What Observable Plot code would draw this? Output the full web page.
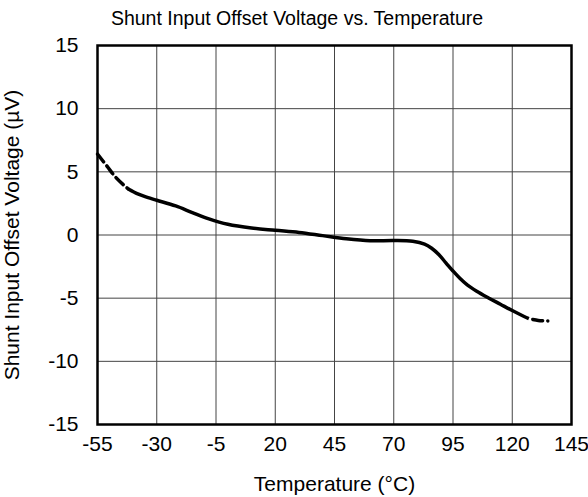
<!DOCTYPE html>
<html>
<head>
<meta charset="utf-8">
<script src="https://cdn.jsdelivr.net/npm/d3@7"></script>
<script src="https://cdn.jsdelivr.net/npm/@observablehq/plot@0.6"></script>
<style>
  html, body { margin: 0; padding: 0; background: #fff; }
  #wrap { position: relative; width: 588px; height: 497px; font-family: "Liberation Sans", Arial, sans-serif; }
  #title { position: absolute; left: 0; width: 594px; top: 7px; text-align: center; font-size: 19.5px; color: #000; }
</style>
</head>
<body>
<div id="wrap">
  <div id="title">Shunt Input Offset Voltage vs. Temperature</div>
  <div id="chart"></div>
</div>
<script>
// Data
const xTicks = [-55, -30, -5, 20, 45, 70, 95, 120, 145];
const yTicks = [-15, -10, -5, 0, 5, 10, 15];

const dashedLowT = [-55, -51, -47, -42];
const dashedLowV = [6.41, 5.45, 4.5, 3.64];

const solidT = [-42, -38, -34, -30, -22, -15, -8, 0, 10, 20, 30, 40, 50, 60, 70, 78, 83, 86, 89, 92, 95, 98, 101, 105, 110, 115, 120, 125, 127];
const solidV = [3.64, 3.25, 2.98, 2.75, 2.3, 1.78, 1.28, 0.85, 0.55, 0.37, 0.2, -0.05, -0.3, -0.46, -0.44, -0.5, -0.72, -1.05, -1.55, -2.2, -2.85, -3.45, -3.95, -4.45, -4.98, -5.48, -5.98, -6.45, -6.62];

const dashedHighT = [127, 131, 135];
const dashedHighV = [-6.62, -6.76, -6.8];

const toRows = (T, V) => T.map((t, i) => ({t, v: V[i]}));

const chart = Plot.plot({
  width: 588,
  height: 497,
  marginTop: 45,
  marginLeft: 97,
  marginRight: 17,
  marginBottom: 73,
  style: {fontFamily: "'Liberation Sans', Arial, sans-serif", fontSize: "21px", color: "#000", background: "#fff"},
  x: {domain: [-55, 145]},
  y: {domain: [-15, 15]},
  marks: [
    Plot.gridX(xTicks, {stroke: "#444", strokeOpacity: 1, strokeWidth: 1}),
    Plot.gridY(yTicks, {stroke: "#444", strokeOpacity: 1, strokeWidth: 1}),
    Plot.frame({stroke: "#000", strokeWidth: 2.5}),
    Plot.axisX(xTicks, {tickSize: 0, tickPadding: 12, fontSize: 21, tickFormat: d => String(d),
      label: "Temperature (°C)", labelAnchor: "center", labelOffset: 66, labelArrow: "none"}),
    Plot.axisY(yTicks, {tickSize: 0, tickPadding: 19, fontSize: 21, tickFormat: d => String(d),
      label: "Shunt Input Offset Voltage (µV)", labelAnchor: "center", labelOffset: 93, labelArrow: "none"}),
    Plot.line(toRows(dashedLowT, dashedLowV), {x: "t", y: "v", stroke: "#000", strokeWidth: 3.5, strokeDasharray: "10,5", curve: "catmull-rom"}),
    Plot.line(toRows(solidT, solidV), {x: "t", y: "v", stroke: "#000", strokeWidth: 3.5, curve: "catmull-rom", strokeLinecap: "butt"}),
    Plot.line(toRows(dashedHighT, dashedHighV), {x: "t", y: "v", stroke: "#000", strokeWidth: 3.5, strokeDasharray: "10,5", strokeDashoffset: 11, curve: "catmull-rom"})
  ]
});
document.getElementById("chart").appendChild(chart);
</script>
</body>
</html>
